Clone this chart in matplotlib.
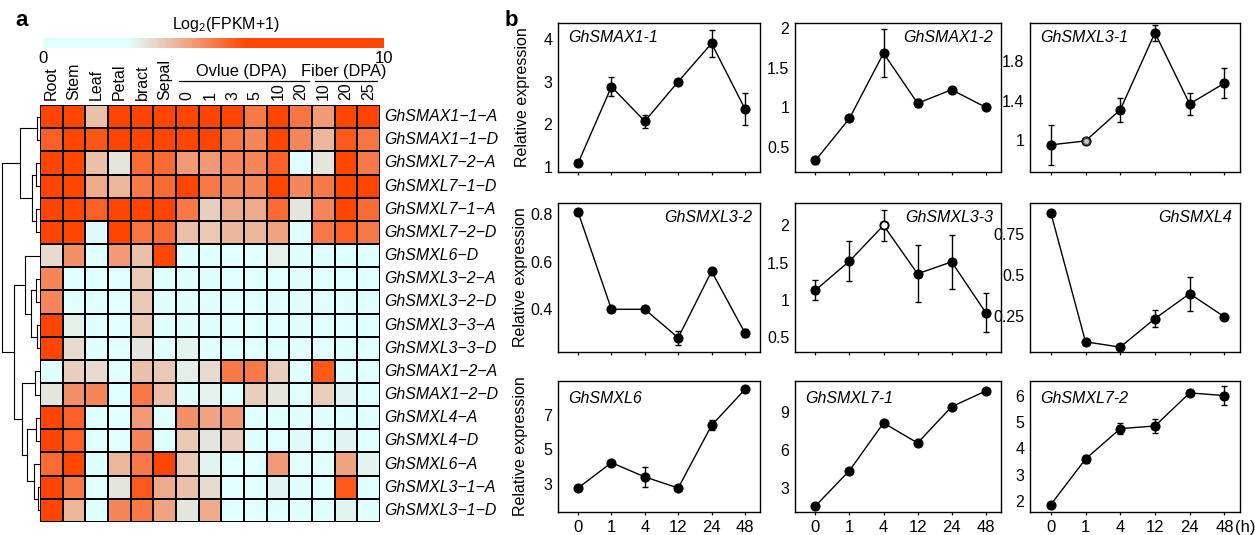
import numpy as np
import matplotlib
matplotlib.use('Agg')
import matplotlib.pyplot as plt
from matplotlib.colors import LinearSegmentedColormap, Normalize
from matplotlib.cm import ScalarMappable
from matplotlib.ticker import FuncFormatter

plt.rcParams['font.family'] = ['Liberation Sans', 'DejaVu Sans']
plt.rcParams['mathtext.fontset'] = 'custom'
plt.rcParams['mathtext.rm'] = 'Liberation Sans'
plt.rcParams['mathtext.it'] = 'Liberation Sans:italic'

W, H = 1255, 535

# ---------------- heatmap data ----------------
tissues = ['Root', 'Stem', 'Leaf', 'Petal', 'bract', 'Sepal',
           '0', '1', '3', '5', '10', '20', '10', '20', '25']
genes = ['GhSMAX1\u22121\u2212A', 'GhSMAX1\u22121\u2212D', 'GhSMXL7\u22122\u2212A',
         'GhSMXL7\u22121\u2212D', 'GhSMXL7\u22121\u2212A', 'GhSMXL7\u22122\u2212D',
         'GhSMXL6\u2212D', 'GhSMXL3\u22122\u2212A', 'GhSMXL3\u22122\u2212D',
         'GhSMXL3\u22123\u2212A', 'GhSMXL3\u22123\u2212D', 'GhSMAX1\u22122\u2212A',
         'GhSMAX1\u22122\u2212D', 'GhSMXL4\u2212A', 'GhSMXL4\u2212D', 'GhSMXL6\u2212A',
         'GhSMXL3\u22121\u2212A', 'GhSMXL3\u22121\u2212D']
log_fpkm = [
    [8.5, 8.5, 3.7, 8.5, 8.5, 8.5, 8.5, 8.5, 8.5, 5.0, 8.5, 5.1, 4.4, 8.5, 8.5],
    [5.5, 8.5, 5.7, 8.5, 8.5, 8.5, 8.5, 8.5, 5.1, 4.8, 8.5, 4.8, 3.9, 5.65, 5.1],
    [8.5, 8.5, 3.7, 3.0, 5.3, 5.3, 4.4, 4.4, 4.8, 4.8, 5.5, 1.0, 3.0, 8.5, 5.0],
    [8.5, 8.5, 4.1, 3.9, 5.0, 5.3, 8.5, 5.0, 4.8, 4.8, 8.5, 4.8, 5.0, 8.5, 8.5],
    [8.5, 8.5, 5.5, 8.5, 8.5, 8.5, 5.0, 3.4, 4.1, 4.1, 5.3, 3.0, 4.8, 8.5, 5.3],
    [8.5, 8.5, 2.6, 8.5, 5.1, 5.3, 3.7, 3.55, 3.9, 3.9, 4.25, 1.0, 5.0, 5.5, 5.0],
    [3.2, 4.6, 1.0, 4.4, 3.7, 8.5, 1.0, 1.0, 1.0, 1.0, 2.8, 1.0, 1.0, 1.0, 1.0],
    [4.8, 1.0, 1.0, 1.0, 3.55, 1.0, 1.0, 1.0, 1.0, 1.0, 1.0, 1.0, 1.0, 1.0, 1.0],
    [4.8, 1.0, 1.0, 1.0, 3.55, 1.0, 1.0, 1.0, 1.0, 1.0, 1.0, 1.0, 1.0, 1.0, 1.0],
    [8.0, 2.8, 1.0, 1.0, 3.55, 1.0, 1.0, 1.0, 1.0, 1.0, 1.0, 1.0, 1.0, 1.0, 1.0],
    [8.5, 3.2, 1.0, 1.0, 3.0, 1.0, 2.7, 1.0, 1.0, 1.0, 1.0, 1.0, 1.0, 1.0, 1.0],
    [1.0, 3.4, 3.2, 1.0, 3.7, 3.55, 2.85, 3.2, 5.0, 5.0, 3.4, 1.0, 5.65, 1.0, 1.0],
    [3.0, 4.6, 4.8, 1.0, 5.0, 3.7, 1.0, 2.7, 1.0, 3.4, 3.0, 1.0, 3.4, 2.7, 1.0],
    [8.5, 5.5, 1.0, 1.0, 4.4, 1.0, 4.6, 4.25, 4.4, 1.0, 1.0, 1.0, 1.0, 1.0, 1.0],
    [8.5, 5.5, 1.0, 1.0, 4.8, 1.0, 3.55, 3.0, 3.4, 1.0, 1.0, 2.6, 1.0, 2.7, 1.0],
    [5.3, 8.5, 1.0, 3.9, 5.0, 7.0, 3.55, 2.7, 1.0, 1.0, 4.4, 1.0, 1.0, 4.25, 2.7],
    [8.5, 5.0, 1.0, 3.0, 5.65, 4.1, 3.7, 3.2, 1.0, 1.0, 2.7, 1.0, 1.0, 5.65, 1.0],
    [8.5, 3.9, 1.0, 4.8, 5.0, 4.25, 3.0, 4.1, 1.0, 1.0, 1.0, 1.0, 1.0, 2.7, 1.0],
]
# column groups: (label, first col, last col)
col_groups = [('Ovlue (DPA)', 6, 11), ('Fiber (DPA)', 12, 14)]
# row dendrogram merges: (child a, child b, height); new clusters numbered from 18
dendro_merges = [
    (0, 1, 3), (2, 3, 4), (4, 5, 4), (19, 20, 8), (18, 21, 20),
    (7, 8, 4), (9, 10, 3), (23, 24, 9), (6, 25, 15),
    (11, 12, 5), (13, 14, 4), (16, 17, 2), (15, 29, 6), (28, 30, 13),
    (27, 31, 18), (26, 32, 26), (22, 33, 38),
]

# ---------------- line plot data ----------------
time_labels = ['0', '1', '4', '12', '24', '48']
smax1_1_mean = [1.08, 2.88, 2.07, 3.0, 3.9, 2.36]
smax1_1_err = [0, 0.22, 0.15, 0, 0.32, 0.38]
smax1_2_mean = [0.33, 0.86, 1.68, 1.05, 1.22, 1.0]
smax1_2_err = [0.04, 0, 0.3, 0.05, 0, 0]
smxl3_1_mean = [0.955, 0.995, 1.31, 2.09, 1.37, 1.58]
smxl3_1_err = [0.2, 0, 0.12, 0.08, 0.11, 0.15]
smxl3_2_mean = [0.81, 0.40, 0.40, 0.28, 0.56, 0.30]
smxl3_2_err = [0, 0.01, 0, 0.03, 0, 0.015]
smxl3_3_mean = [1.13, 1.52, 2.0, 1.35, 1.51, 0.83]
smxl3_3_err = [0.13, 0.27, 0.21, 0.38, 0.36, 0.26]
smxl4_mean = [0.88, 0.092, 0.06, 0.234, 0.386, 0.245]
smxl4_err = [0, 0, 0, 0.05, 0.105, 0]
smxl6_mean = [2.74, 4.22, 3.39, 2.74, 6.4, 8.5]
smxl6_err = [0, 0, 0.6, 0, 0.3, 0]
smxl7_1_mean = [1.54, 4.36, 8.16, 6.56, 9.45, 10.7]
smxl7_1_err = [0, 0, 0, 0, 0.2, 0.2]
smxl7_2_mean = [1.88, 3.6, 4.75, 4.85, 6.1, 6.0]
smxl7_2_err = [0, 0.15, 0.2, 0.25, 0, 0.35]

panels = [
    ('GhSMAX1-1', smax1_1_mean, smax1_1_err, (0.875, 4.38), [1, 2, 3, 4], 'left', {}),
    ('GhSMAX1-2', smax1_2_mean, smax1_2_err, (0.185, 2.06), [0.5, 1, 1.5, 2], 'right', {}),
    ('GhSMXL3-1', smxl3_1_mean, smxl3_1_err, (0.68, 2.19), [1, 1.4, 1.8], 'left', {1: 'gray'}),
    ('GhSMXL3-2', smxl3_2_mean, smxl3_2_err, (0.22, 0.848), [0.4, 0.6, 0.8], 'right', {}),
    ('GhSMXL3-3', smxl3_3_mean, smxl3_3_err, (0.30, 2.30), [0.5, 1, 1.5, 2], 'right', {2: 'open'}),
    ('GhSMXL4', smxl4_mean, smxl4_err, (0.03, 0.94), [0.25, 0.5, 0.75], 'right', {}),
    ('GhSMXL6', smxl6_mean, smxl6_err, (1.34, 8.99), [3, 5, 7], 'left', {}),
    ('GhSMXL7-1', smxl7_1_mean, smxl7_1_err, (1.06, 11.5), [3, 6, 9], 'left', {}),
    ('GhSMXL7-2', smxl7_2_mean, smxl7_2_err, (1.6, 6.55), [2, 3, 4, 5, 6], 'left', {}),
]

fig = plt.figure(figsize=(W / 100, H / 100), dpi=100)


def rect(x0, y0, x1, y1):
    return [x0 / W, 1 - y1 / H, (x1 - x0) / W, (y1 - y0) / H]


# ---------------- heatmap ----------------
data = np.array(log_fpkm)
nrow, ncol = data.shape
cmap = LinearSegmentedColormap.from_list(
    'lc_or', [(0.0, '#E0FFFF'), (0.25, '#E0FFFF'), (0.6, '#FF4500'), (1.0, '#FF4500')])
norm = Normalize(0, 10)

axh = fig.add_axes(rect(40, 105, 380, 522))
axh.pcolormesh(np.arange(ncol + 1), np.arange(nrow + 1), data, cmap=cmap, norm=norm,
               edgecolors='black', linewidth=1.1)
axh.set_xlim(0, ncol)
axh.set_ylim(nrow, 0)
axh.axis('off')
for j, lab in enumerate(tissues):
    axh.text(j + 0.5, -0.2, lab, rotation=90, ha='center', va='bottom', fontsize=11.5,
             clip_on=False)
for i, g in enumerate(genes):
    axh.text(ncol + 0.18, i + 0.5, g, ha='left', va='center', fontsize=11.4,
             style='italic', clip_on=False)
for lab, c0, c1 in col_groups:
    axh.plot([c0 + 0.15, c1 + 0.85], [-1.04, -1.04], color='black', lw=0.9, clip_on=False)
    axh.text((c0 + c1 + 1) / 2 - 0.1, -1.12, lab, ha='center', va='bottom', fontsize=11.8,
             clip_on=False)

# dendrogram
axd = fig.add_axes(rect(0, 105, 40, 522))
pos = {i: i + 0.5 for i in range(nrow)}
hgt = {i: 0 for i in range(nrow)}
nid = nrow
for a, b, h in dendro_merges:
    for c in (a, b):
        axd.plot([hgt[c], h], [pos[c], pos[c]], color='black', lw=0.8)
    axd.plot([h, h], [pos[a], pos[b]], color='black', lw=0.8)
    pos[nid] = (pos[a] + pos[b]) / 2
    hgt[nid] = h
    nid += 1
axd.set_xlim(40, 0)
axd.set_ylim(nrow, 0)
axd.axis('off')

# colorbar
cax = fig.add_axes(rect(43, 38, 384, 48))
cb = fig.colorbar(ScalarMappable(norm=norm, cmap=cmap), cax=cax, orientation='horizontal')
cb.outline.set_visible(False)
cb.set_ticks([0, 10])
cax.tick_params(length=0, labelsize=12, pad=2)
fig.text(226 / W, 1 - 25 / H, r'Log$_2$(FPKM+1)', ha='center', va='center', fontsize=11.5)

fig.text(15 / W, 1 - 20 / H, 'a', fontsize=16, fontweight='bold', ha='left', va='center')
fig.text(505 / W, 1 - 20 / H, 'b', fontsize=16, fontweight='bold', ha='left', va='center')

# ---------------- line plots ----------------
col_px = [(558, 760), (795, 1001), (1030, 1240)]
row_px = [(23, 172), (203, 352), (381, 512)]
xs = np.arange(len(time_labels))
fmt = FuncFormatter(lambda v, p: '%g' % v)

for k, (name, mean, err, ylim, yticks, side, special) in enumerate(panels):
    r, c = divmod(k, 3)
    (x0, x1), (y0, y1) = col_px[c], row_px[r]
    ax = fig.add_axes(rect(x0, y0, x1, y1))
    ax.errorbar(xs, mean, yerr=err, color='black', lw=1.0, elinewidth=1.0,
                capsize=2.3, capthick=1.0, marker='o', markersize=6.3, zorder=3)
    for idx, kind in special.items():
        if kind == 'open':
            ax.plot(xs[idx], mean[idx], 'o', mfc='white', mec='black', mew=1.0,
                    markersize=5.5, zorder=4)
        else:
            ax.plot(xs[idx], mean[idx], 'o', mfc='#c8c8c8', mec='#555555', mew=1.0,
                    markersize=4.5, zorder=4)
    ax.set_xlim(-0.6, len(xs) - 0.55)
    ax.set_ylim(*ylim)
    ax.set_yticks(yticks)
    ax.yaxis.set_major_formatter(fmt)
    ax.set_xticks(xs)
    for sp in ax.spines.values():
        sp.set_linewidth(1.0)
    ax.tick_params(axis='y', length=0, pad=4, labelsize=11.5)
    ax.tick_params(axis='x', length=2.5, width=0.9, pad=3.5, labelsize=12)
    if r == 2:
        ax.set_xticklabels(time_labels)
    else:
        ax.set_xticklabels([])
    if side == 'left':
        ax.text(0.05, 0.9 if r < 2 else 0.87, name, transform=ax.transAxes, ha='left',
                va='center', style='italic', fontsize=11.5)
    else:
        ax.text(0.96, 0.9, name, transform=ax.transAxes, ha='right', va='center',
                style='italic', fontsize=11.5)
    if c == 0:
        fig.text((523 if r == 0 else 520) / W, 1 - ((y0 + y1) / 2) / H,
                 'Relative expression', rotation=90, ha='center', va='center',
                 fontsize=11.5)
    if r == 2 and c == 2:
        ax.annotate('(h)', xy=(xs[-1], 0), xycoords=('data', 'axes fraction'),
                    xytext=(7.5, -6), textcoords='offset points', ha='left', va='top',
                    fontsize=12)

fig.savefig('out.png', dpi=100)
